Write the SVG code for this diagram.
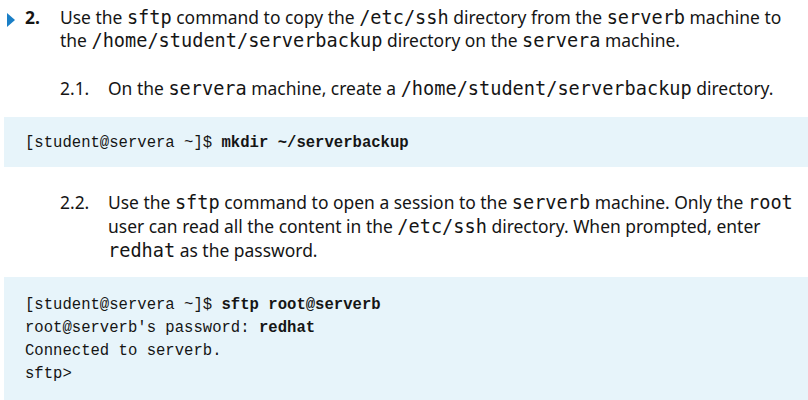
<svg xmlns="http://www.w3.org/2000/svg" width="808" height="400" viewBox="0 0 808 400">
<style>
.t{font-family:"Noto Sans","Open Sans",sans-serif;font-size:17.45px;fill:#151515}
.m{font-family:"DejaVu Sans Mono","Liberation Mono",monospace;font-size:18.6px}
.c{font-family:"Liberation Mono","DejaVu Sans Mono",monospace;font-size:15.6px;fill:#151515}
.b{font-weight:bold}
.bg{fill:#e7f4fa}
</style>
<rect width="808" height="400" fill="#ffffff"/>
<g id="heading">
<polygon points="7,13 15,20 7,27" fill="#1a7fc6"/>
<text class="t b" x="25" y="24">2.</text>
<text class="t" x="60" y="24">Use the <tspan class="m">sftp</tspan> command to copy the <tspan class="m">/etc/ssh</tspan> directory from the <tspan class="m">serverb</tspan> machine to</text>
<text class="t" x="60" y="47">the <tspan class="m">/home/student/serverbackup</tspan> directory on the <tspan class="m">servera</tspan> machine.</text>
</g>
<g id="step21">
<text class="t" x="60" y="95">2.1.</text>
<text class="t" x="108" y="95">On the <tspan class="m">servera</tspan> machine, create a <tspan class="m">/home/student/serverbackup</tspan> directory.</text>
</g>
<g id="code1">
<rect class="bg" x="4" y="117" width="804" height="50"/>
<text class="c" x="25" y="147">[student@servera ~]$ <tspan class="b">mkdir ~/serverbackup</tspan></text>
</g>
<g id="step22">
<text class="t" x="60" y="209">2.2.</text>
<text class="t" x="108" y="209">Use the <tspan class="m">sftp</tspan> command to open a session to the <tspan class="m">serverb</tspan> machine. Only the <tspan class="m">root</tspan></text>
<text class="t" x="108" y="233">user can read all the content in the <tspan class="m">/etc/ssh</tspan> directory. When prompted, enter</text>
<text class="t" x="108" y="257"><tspan class="m">redhat</tspan> as the password.</text>
</g>
<g id="code2">
<rect class="bg" x="4" y="277" width="804" height="123"/>
<text class="c" x="25" y="309">[student@servera ~]$ <tspan class="b">sftp root@serverb</tspan></text>
<text class="c" x="25" y="332">root@serverb's password: <tspan class="b">redhat</tspan></text>
<text class="c" x="25" y="355">Connected to serverb.</text>
<text class="c" x="25" y="378">sftp&gt;</text>
</g>
</svg>
